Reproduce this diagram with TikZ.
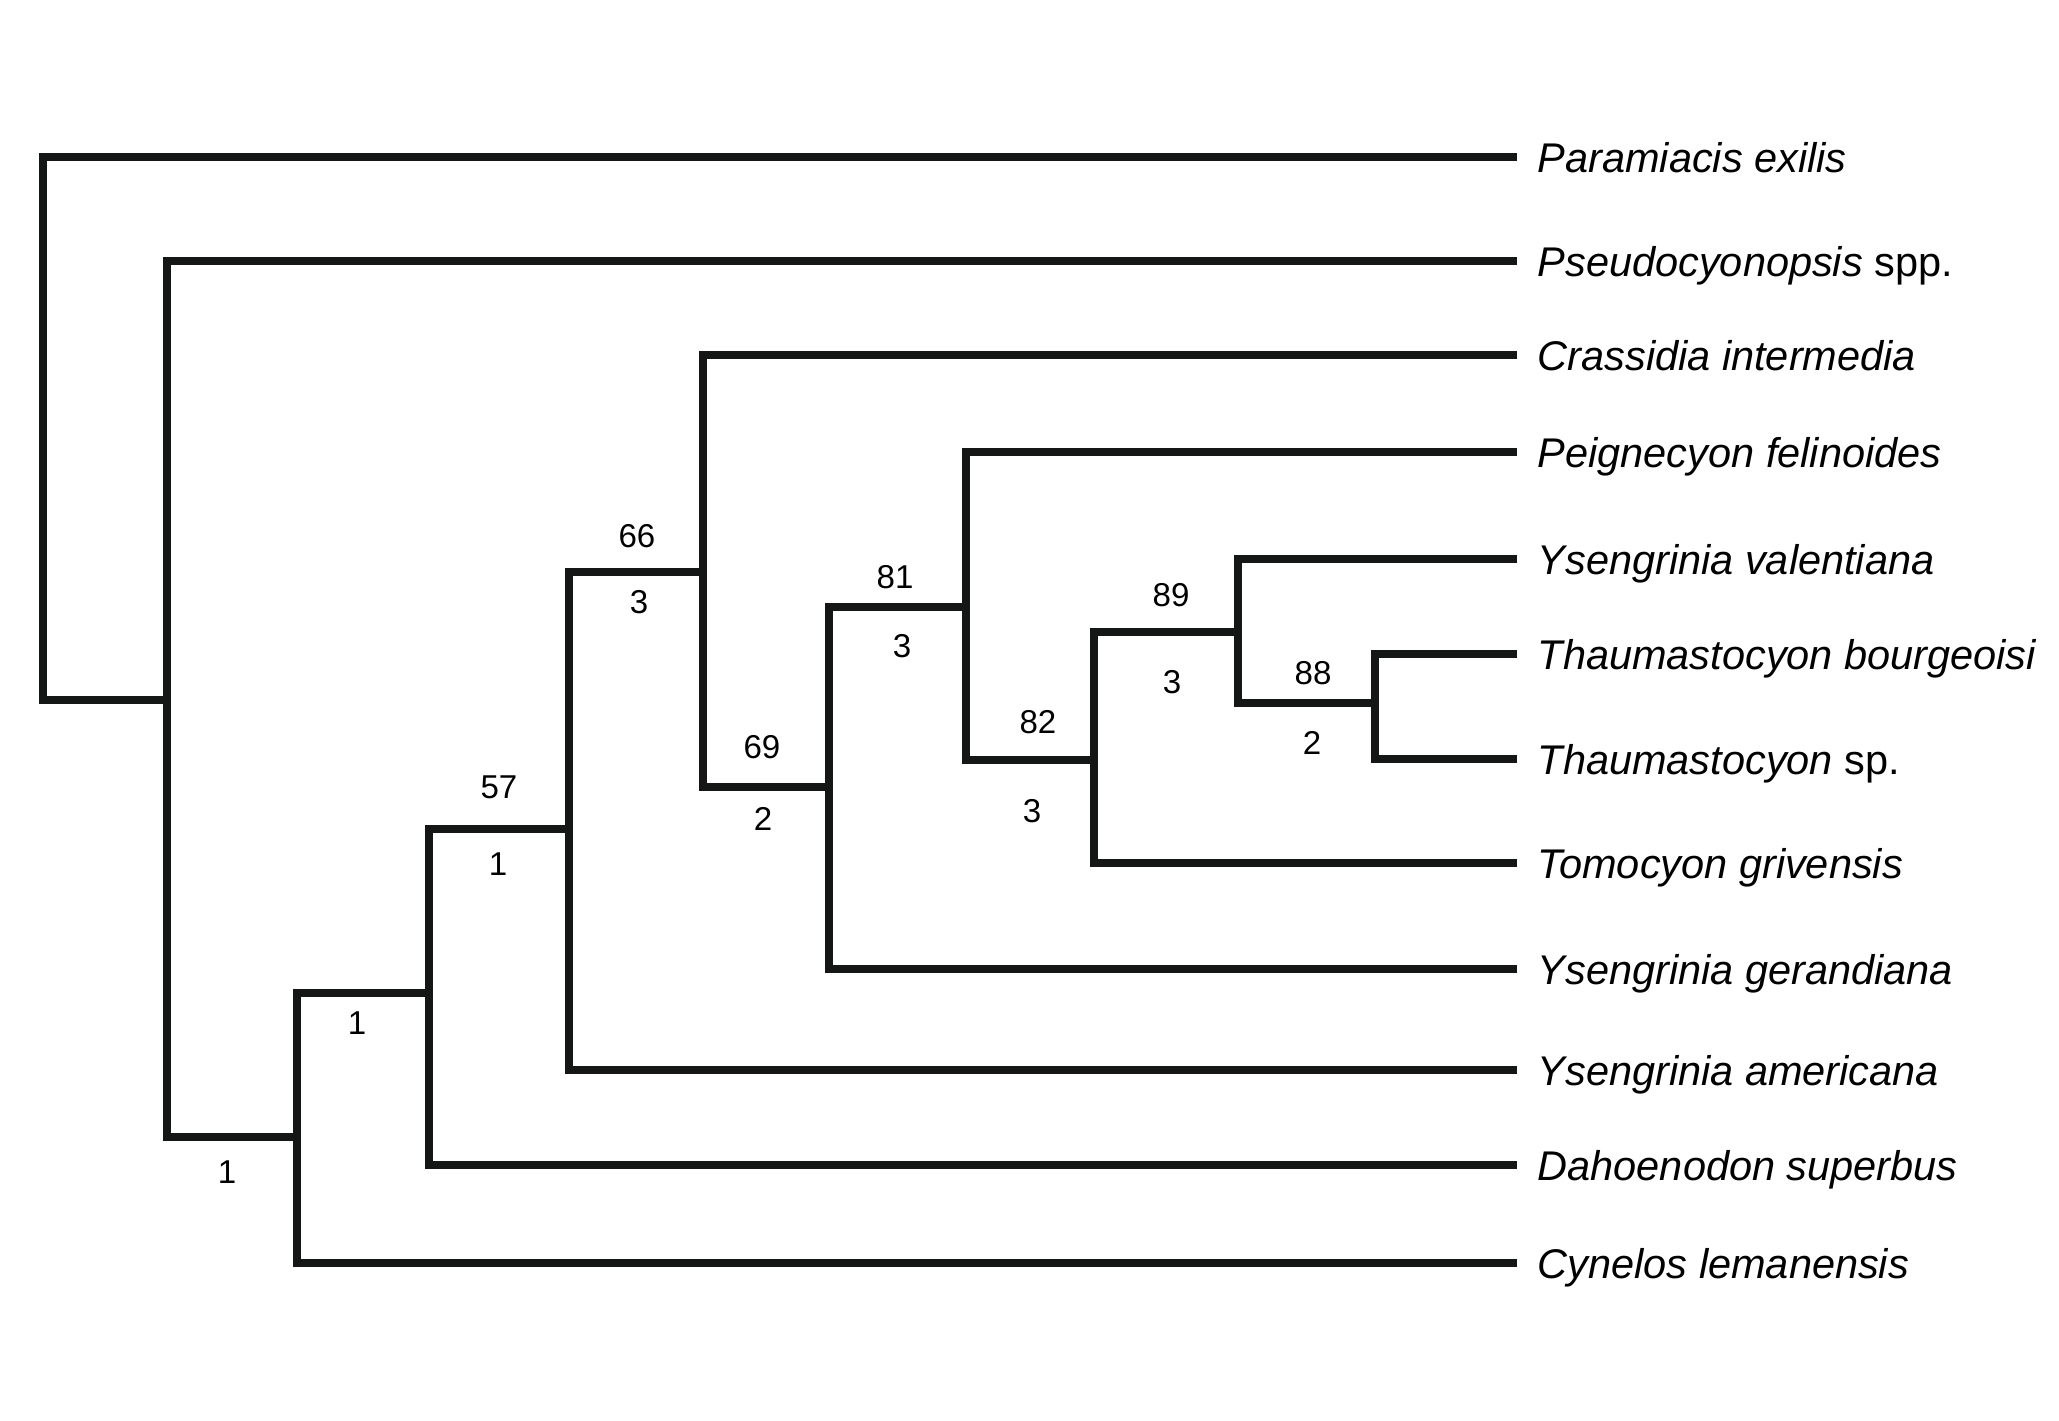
\documentclass[tikz,border=0pt]{standalone}
\usepackage{fontspec}
\setmainfont{Liberation Sans}
\usepackage{xcolor}
\usepackage{tikz}
\definecolor{tLine}{RGB}{20,23,21}
\tikzset{
  branch/.style={draw=tLine, line width=2.2pt, line join=miter},
  taxon/.style={anchor=west, inner xsep=0.2cm, inner ysep=0pt,
                text height=0.35cm, text depth=0.05cm,
                font=\fontsize{11.8}{13}\selectfont},
  boot/.style={font=\fontsize{9.4}{11}\selectfont, inner sep=0pt},
  brem/.style={boot},
}

\begin{document}
\begin{tikzpicture}[x=0.01cm, y=-0.01cm]
  \useasboundingbox (0,0) rectangle (2059,1421);

  % terminal taxa
  \node[taxon] (pexi)  at (1517,157)  {\textit{Paramiacis exilis}};
  \node[taxon] (pseu)  at (1517,261)  {\textit{Pseudocyonopsis} spp.};
  \node[taxon] (cras)  at (1517,355)  {\textit{Crassidia intermedia}};
  \node[taxon] (peig)  at (1517,452)  {\textit{Peignecyon felinoides}};
  \node[taxon] (yval)  at (1517,559)  {\textit{Ysengrinia valentiana}};
  \node[taxon] (tbou)  at (1517,654)  {\textit{Thaumastocyon bourgeoisi}};
  \node[taxon] (tsp)   at (1517,759)  {\textit{Thaumastocyon} sp.};
  \node[taxon] (tomo)  at (1517,863)  {\textit{Tomocyon grivensis}};
  \node[taxon] (yger)  at (1517,969)  {\textit{Ysengrinia gerandiana}};
  \node[taxon] (yame)  at (1517,1070) {\textit{Ysengrinia americana}};
  \node[taxon] (dahoe) at (1517,1165) {\textit{Dahoenodon superbus}};
  \node[taxon] (cyne)  at (1517,1263) {\textit{Cynelos lemanensis}};

  % internal nodes
  \coordinate (root) at (43,700);
  \coordinate (nA) at (167,700);
  \coordinate (nB) at (297,1137);
  \coordinate (nC) at (429,993);
  \coordinate (nD) at (569,829);
  \coordinate (nE) at (703,572);
  \coordinate (nF) at (829,787);
  \coordinate (nG) at (966,607);
  \coordinate (nH) at (1094,760);
  \coordinate (nI) at (1238,632);
  \coordinate (nJ) at (1375,703);

  % branches
  \draw[branch] (pexi.west) -| (root) -- (nA);
  \draw[branch] (pseu.west) -| (nA) |- (nB);
  \draw[branch] (nC) -| (nB) |- (cyne.west);
  \draw[branch] (nD) -| (nC) |- (dahoe.west);
  \draw[branch] (nE) -| (nD) |- (yame.west);
  \draw[branch] (cras.west) -| (nE) |- (nF);
  \draw[branch] (nG) -| (nF) |- (yger.west);
  \draw[branch] (peig.west) -| (nG) |- (nH);
  \draw[branch] (nI) -| (nH) |- (tomo.west);
  \draw[branch] (yval.west) -| (nI) |- (nJ);
  \draw[branch] (tbou.west) -| (nJ) |- (tsp.west);

  % bootstrap (above) and Bremer (below)
  \node[boot] (bsD) at (637,536)  {66};
  \node[brem] (brD) at (639,602)  {3};
  \node[boot] (bsF) at (895,577)  {81};
  \node[brem] (brF) at (902,646)  {3};
  \node[boot] (bsE) at (762,747)  {69};
  \node[brem] (brE) at (763,819)  {2};
  \node[boot] (bsC) at (499,787)  {57};
  \node[brem] (brC) at (498,864)  {1};
  \node[boot] (bsH) at (1171,595) {89};
  \node[brem] (brH) at (1172,682) {3};
  \node[boot] (bsI) at (1313,673) {88};
  \node[brem] (brI) at (1312,743) {2};
  \node[boot] (bsG) at (1038,722) {82};
  \node[brem] (brG) at (1032,811) {3};
  \node[brem] (brB) at (357,1023) {1};
  \node[brem] (brA) at (227,1172) {1};
\end{tikzpicture}
\end{document}
